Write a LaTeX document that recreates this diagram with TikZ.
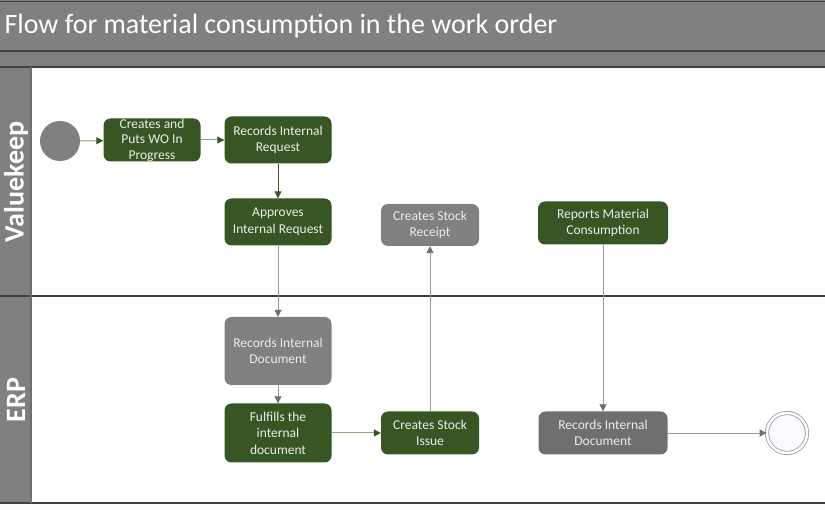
\documentclass[tikz,border=0pt]{standalone}
\usepackage{fontspec}
\setmainfont{Carlito}
\usetikzlibrary{arrows.meta}

\definecolor{wogreen}{HTML}{375623}
\definecolor{wogray}{HTML}{808080}
\definecolor{wodark}{HTML}{6F6F6F}
\definecolor{wotext}{HTML}{ECECEC}
\definecolor{edgegreen}{HTML}{8BA67C}
\definecolor{edgegray}{HTML}{9A9A9A}
\definecolor{rulegray}{HTML}{3F3F3F}

\begin{document}
\begin{tikzpicture}[x=1pt,y=-1pt,
  task/.style={rectangle, rounded corners=7pt, align=center, text=wotext,
    inner sep=0pt, font=\fontsize{13.5}{16.5}\selectfont},
  greentask/.style={task, fill=wogreen},
  graytask/.style={task, fill=wogray},
  flowgreen/.style={draw=edgegreen, line width=1pt,
    -{Triangle[length=7pt,width=7pt,color=wogreen,fill=wogreen]}},
  flowdark/.style={draw=wogreen, line width=1pt,
    -{Triangle[length=7pt,width=7pt,fill=wogreen]}},
  flowgray/.style={draw=edgegray, line width=0.9pt,
    -{Triangle[length=7pt,width=7pt,color=wodark,fill=wodark]}},
  lane/.style={rotate=90, text=white, font=\fontsize{28}{28}\bfseries}
]
\useasboundingbox (0,0) rectangle (825,510);
% frame and lanes
\fill[white] (0,0) rectangle (825,510);
\fill[blue!2] (0,504) rectangle (825,510);
\fill[wogray] (0,0) rectangle (825,67);
\fill[wogray] (0,67) rectangle (31,503);
\draw[rulegray, line width=1pt] (0,2) -- (825,2);
\draw[rulegray, line width=1.2pt] (0,51) -- (825,51);
\draw[rulegray, line width=1.2pt] (0,67) -- (825,67);
\draw[rulegray, line width=1.2pt] (0,296) -- (825,296);
\draw[rulegray, line width=1.2pt] (0,503) -- (825,503);
\draw[wodark, line width=1.2pt] (31,67) -- (31,503);
\node[anchor=west, text=white, font=\fontsize{28}{28}\selectfont] (title) at (1,26) {Flow for material consumption in the work order};
\node[lane] (vk) at (16,182) {Valuekeep};
\node[lane] (erp) at (16,400) {ERP};

% Valuekeep lane
\fill[wogray] (60,141) circle (20);
\coordinate (start) at (80,141);
\node[greentask, minimum width=97pt, minimum height=43pt, font=\fontsize{13.5}{15.5}\selectfont] (createwo) at (152,140) {Creates and\\Puts WO In\\Progress};
\node[greentask, minimum width=107pt, minimum height=47pt] (recreq) at (278,140) {Records Internal\\Request};
\node[greentask, minimum width=107pt, minimum height=47pt] (appreq) at (278,222) {Approves\\Internal Request};
\node[graytask, minimum width=98pt, minimum height=42pt] (stockrec) at (430,225) {Creates Stock\\Receipt};
\node[greentask, minimum width=130pt, minimum height=43pt] (reportmat) at (603,223) {Reports Material\\Consumption};

% ERP lane
\node[graytask, minimum width=107pt, minimum height=68pt] (recdoc) at (278,351) {Records Internal\\Document};
\node[greentask, minimum width=107pt, minimum height=59pt] (fulfill) at (278,433) {Fulfills the\\internal\\document};
\node[greentask, minimum width=98pt, minimum height=43pt] (stockiss) at (430,433) {Creates Stock\\Issue};
\node[task, fill=wodark, minimum width=129pt, minimum height=43pt] (recdoc2) at (603,433) {Records Internal\\Document};
\node[circle, draw=edgegray, fill=blue!2, line width=0.8pt, minimum size=40pt, double=white, double distance=2.5pt, inner sep=0pt] (finish) at (787,433) {};

% flows
\draw[flowgreen] (start) -- (createwo);
\draw[flowgreen] (createwo) -- (recreq);
\draw[flowdark] (recreq) -- (appreq);
\draw[flowgray] (appreq) -- (recdoc);
\draw[flowgray] (recdoc) -- (fulfill);
\draw[flowgreen] (fulfill) -- (stockiss);
\draw[flowgray] (stockiss) -- (stockrec);
\draw[flowgray] (reportmat) -- (recdoc2);
\draw[flowgray] (recdoc2) -- (finish);
\end{tikzpicture}
\end{document}
